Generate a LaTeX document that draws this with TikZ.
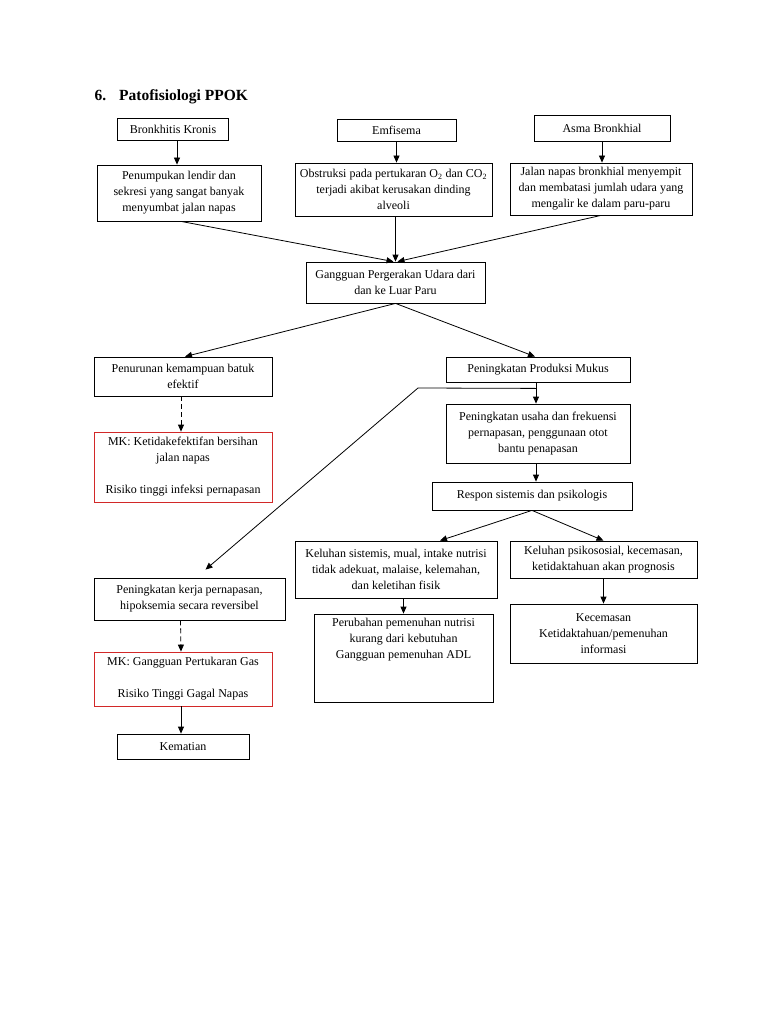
\documentclass[tikz,border=0pt]{standalone}
\usepackage{fontspec}
\setmainfont{Liberation Serif}
\usetikzlibrary{arrows.meta,calc}
\begin{document}
\begin{tikzpicture}[x=1pt,y=-1pt,
  box/.style={draw=black,line width=0.8pt,align=center,inner sep=0pt,
    font=\fontsize{12}{16}\selectfont},
  redbox/.style={box,draw={rgb,255:red,210;green,40;blue,40}},
  arr/.style={line width=0.8pt,-{Triangle[length=7pt,width=6pt]}},
  dasharr/.style={arr,dash pattern=on 5pt off 3pt},
  ln/.style={line width=0.8pt}]
\useasboundingbox[fill=white] (0,0) rectangle (768,1024);
\node[anchor=base west,font=\bfseries\fontsize{15.5}{17}\selectfont] (title) at (91,101) {6.\hspace{13pt}Patofisiologi PPOK};
% top row
\node[box,minimum width=111,minimum height=22] (bronk) at (173,129.5) {Bronkhitis Kronis};
\node[box,minimum width=119,minimum height=22] (emf) at (396.5,130) {Emfisema};
\node[box,minimum width=136,minimum height=26] (asma) at (602,128) {Asma Bronkhial};
% second row
\node[box,minimum width=164,minimum height=56] (penum) at (179,193) {Penumpukan lendir dan\\sekresi yang sangat banyak\\menyumbat jalan napas};
\node[box,minimum width=197,minimum height=53] (obst) at (393.5,189.5) {Obstruksi pada pertukaran O\textsubscript{2} dan CO\textsubscript{2}\\terjadi akibat kerusakan dinding\\alveoli};
\node[box,minimum width=182,minimum height=52] (jalan) at (601,189) {Jalan napas bronkhial menyempit\\dan membatasi jumlah udara yang\\mengalir ke dalam paru-paru};
% middle
\node[box,minimum width=179,minimum height=41] (gang) at (395.5,282.5) {Gangguan Pergerakan Udara dari\\dan ke Luar Paru};
\node[box,minimum width=178,minimum height=39] (penur) at (183,376.5) {Penurunan kemampuan batuk\\efektif};
\node[box,minimum width=184,minimum height=25] (mukus) at (538,369.5) {Peningkatan Produksi Mukus};
\node[box,minimum width=184,minimum height=59] (usaha) at (538,433.5) {Peningkatan usaha dan frekuensi\\pernapasan, penggunaan otot\\bantu penapasan};
\node[box,minimum width=200,minimum height=28] (respon) at (532,496) {Respon sistemis dan psikologis};
\node[redbox,minimum width=178,minimum height=70] (mk1) at (183,467) {MK: Ketidakefektifan bersihan\\jalan napas\\[16pt]Risiko tinggi infeksi pernapasan};
% lower right
\node[box,minimum width=202,minimum height=57] (kelsis) at (396,569.5) {Keluhan sistemis, mual, intake nutrisi\\tidak adekuat, malaise, kelemahan,\\dan keletihan fisik};
\node[box,minimum width=187,minimum height=37] (kelpsi) at (603.5,559.5) {Keluhan psikososial, kecemasan,\\ketidaktahuan akan prognosis};
\node[box,minimum width=179,minimum height=88] (perub) at (403.5,658) {};
\node[align=center,inner sep=0pt,font=\fontsize{12}{16}\selectfont,anchor=north] (perubtxt) at ([yshift=-4pt]perub.north) {Perubahan pemenuhan nutrisi\\kurang dari kebutuhan\\Gangguan pemenuhan ADL};
\node[box,minimum width=187,minimum height=59] (kecem) at (603.5,633.5) {Kecemasan\\Ketidaktahuan/pemenuhan\\informasi};
% lower left
\node[box,minimum width=191,minimum height=42] (kerja) at (189.5,599) {Peningkatan kerja pernapasan,\\hipoksemia secara reversibel};
\node[redbox,minimum width=178,minimum height=54] (mk2) at (183,679) {MK: Gangguan Pertukaran Gas\\[16pt]Risiko Tinggi Gagal Napas};
\node[box,minimum width=132,minimum height=25] (kemat) at (183,746.5) {Kematian};
% connectors
\draw[arr] ([xshift=4pt]bronk.south) -- ([xshift=4pt]bronk.south |- penum.north);
\draw[arr] (emf.south) -- (emf.south |- obst.north);
\draw[arr] (asma.south) -- (asma.south |- jalan.north);
\draw[arr] ([xshift=2pt]penum.south) -- ([xshift=-2pt]gang.north);
\draw[arr] (gang.north |- obst.south) -- (gang.north);
\draw[arr] (jalan.south) -- ([xshift=2pt]gang.north);
\draw[arr] (gang.south) -- ([xshift=2pt]penur.north);
\draw[arr] (gang.south) -- ([xshift=-3pt]mukus.north);
\draw[arr] ([xshift=-2pt]mukus.south) -- ([xshift=-2pt]mukus.south |- usaha.north);
\coordinate (bend1) at ($([xshift=-2pt]mukus.south)+(0,6)$);
\coordinate (bend2) at (418,388);
\coordinate (kerjatip) at ($(kerja.north)+(16,-8)$);
\draw[ln] (bend1) -- (bend2);
\draw[arr] (bend2) -- (kerjatip);
\draw[arr] ([xshift=-2pt]usaha.south) -- ([xshift=-2pt]usaha.south |- respon.north);
\draw[arr] (respon.south) -- ([xshift=44pt]kelsis.north);
\draw[arr] (respon.south) -- (kelpsi.north);
\draw[arr] (kelsis.south -| perub.north) -- (perub.north);
\draw[arr] (kelpsi.south) -- (kecem.north);
\draw[dasharr] ([xshift=-2pt]penur.south) -- ([xshift=-2pt]mk1.north);
\draw[dasharr] ([xshift=-9pt]kerja.south) -- ([xshift=-2pt]mk2.north);
\draw[arr] ([xshift=-2pt]mk2.south) -- ([xshift=-2pt]kemat.north);
\end{tikzpicture}
\end{document}
